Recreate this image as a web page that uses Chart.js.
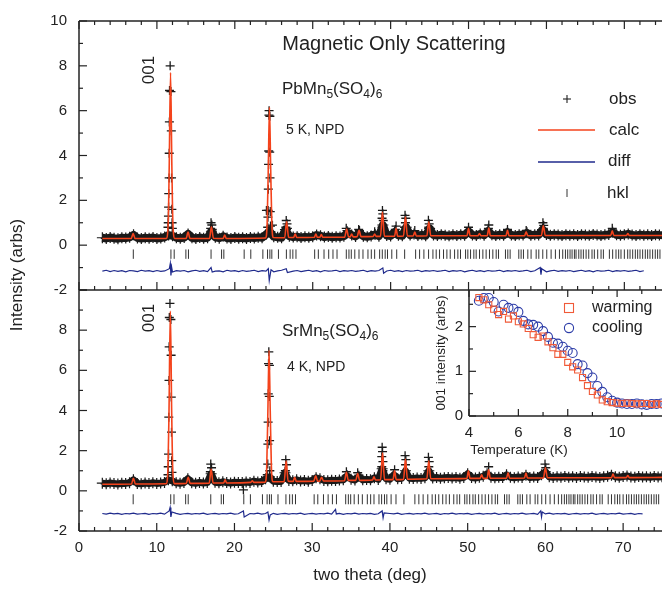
<!DOCTYPE html>
<html>
<head>
<meta charset="utf-8">
<script src="https://cdn.jsdelivr.net/npm/chart.js@4.4.1/dist/chart.umd.min.js"></script>
<style>
  html, body { margin: 0; padding: 0; background: #fff; }
  #wrap { position: relative; width: 662px; height: 590px; overflow: hidden; }
  #wrap canvas { position: absolute; left: 0; top: 0; }
</style>
</head>
<body>
<div id="wrap">
  <canvas id="bottom" width="670" height="590"></canvas>
  <canvas id="top" width="670" height="590"></canvas>
  <canvas id="inset" width="670" height="590"></canvas>
</div>
<script>
// ---- data ----
const xTickLabels = [0, 10, 20, 30, 40, 50, 60, 70];

// obs background band, every 0.5 deg from 3.0
const bandStart = 3.0, bandStep = 0.5;
const pbObsBand = [
  0.33,0.30,0.34,0.31,0.29,0.33,0.32,0.35,0.46,0.32,0.30,0.33,0.31,0.34,0.30,0.32,0.36,0.45,0.42,0.33,
  0.31,0.34,0.50,0.33,0.30,0.34,0.31,0.33,0.62,0.35,0.31,0.40,0.32,0.30,0.34,0.31,0.33,0.30,0.34,0.32,
  0.35,0.33,0.48,0.60,0.38,0.35,0.33,0.70,0.40,0.36,0.38,0.34,0.37,0.35,0.38,0.45,0.42,0.36,0.39,0.35,
  0.38,0.36,0.40,0.55,0.45,0.39,0.55,0.40,0.37,0.41,0.48,0.40,0.90,0.43,0.41,0.58,0.44,0.42,0.80,0.45,
  0.50,0.43,0.46,0.42,0.75,0.45,0.43,0.47,0.44,0.42,0.46,0.43,0.47,0.44,0.62,0.45,0.43,0.50,0.44,0.62,
  0.46,0.43,0.47,0.44,0.58,0.45,0.43,0.47,0.45,0.55,0.44,0.47,0.45,0.70,0.48,0.44,0.47,0.45,0.43,0.47,
  0.44,0.46,0.43,0.47,0.45,0.44,0.48,0.45,0.43,0.46,0.48,0.58,0.46,0.44,0.47,0.50,0.45,0.43,0.47,0.44,
  0.46,0.43,0.47,0.45,0.44
];
const srObsBand = [
  0.38,0.35,0.39,0.36,0.34,0.38,0.37,0.40,0.55,0.37,0.35,0.39,0.36,0.40,0.37,0.39,0.42,0.55,0.50,0.40,
  0.38,0.41,0.60,0.40,0.38,0.42,0.39,0.41,0.85,0.43,0.40,0.45,0.41,0.39,0.43,0.41,0.42,0.44,0.42,0.48,
  0.44,0.46,0.60,0.70,0.48,0.46,0.47,0.90,0.52,0.50,0.55,0.49,0.51,0.48,0.52,0.65,0.60,0.52,0.50,0.53,
  0.51,0.54,0.55,0.75,0.58,0.54,0.72,0.55,0.57,0.55,0.65,0.57,1.10,0.60,0.58,0.80,0.60,0.62,1.00,0.63,
  0.61,0.64,0.62,0.65,1.00,0.64,0.66,0.63,0.65,0.67,0.64,0.66,0.63,0.67,0.85,0.66,0.64,0.68,0.72,0.85,
  0.68,0.65,0.68,0.66,0.80,0.68,0.65,0.69,0.67,0.78,0.66,0.69,0.67,0.80,0.95,0.70,0.67,0.70,0.68,0.71,
  0.68,0.70,0.67,0.71,0.69,0.68,0.71,0.69,0.67,0.70,0.72,0.78,0.70,0.68,0.71,0.74,0.69,0.68,0.71,0.69,
  0.70,0.68,0.71,0.69,0.70
];

// obs crosses on the peaks [2theta, intensity]
const pbObsPeaks = [
  [11.70,8.0],[11.62,6.9],[11.80,6.85],[11.60,5.5],[11.85,5.1],[11.58,4.1],[11.57,3.0],[11.88,3.0],
  [11.52,2.3],[11.50,1.7],[11.92,1.6],[11.48,1.3],[11.45,1.0],[11.95,1.0],[11.42,0.8],[11.98,0.75],
  [24.40,6.0],[24.38,5.8],[24.50,5.75],[24.35,4.2],[24.48,4.15],[24.33,3.6],[24.52,3.0],[24.30,2.5],
  [24.28,1.55],[24.55,1.5],[24.25,1.25],[24.58,0.85],[24.22,0.8],[24.06,1.55],[24.83,0.89],
  [16.95,1.0],[17.05,0.9],[16.9,0.75],[17.1,0.7],
  [26.6,1.1],[26.7,0.95],[26.55,0.8],[26.75,0.75],
  [34.3,0.75],[34.4,0.65],[35.9,0.7],[36.0,0.65],[37.95,0.6],
  [38.95,1.55],[39.0,1.4],[38.9,1.2],[39.05,1.1],[38.9,0.8],[39.1,0.75],
  [40.7,0.85],[40.6,0.7],[41.85,1.33],[41.95,1.2],[41.9,1.0],[41.8,0.8],[43.1,0.65],
  [44.85,1.11],[44.95,0.95],[44.9,0.8],[50.0,0.8],[52.6,0.9],[52.55,0.75],[55.0,0.7],[57.4,0.65],
  [59.55,1.0],[59.65,0.88],[59.6,0.75],[68.45,0.75]
];
const srObsPeaks = [
  [11.70,9.33],[11.62,8.63],[11.82,8.53],[11.60,7.17],[11.85,6.75],[11.58,5.5],[11.87,4.67],
  [11.55,3.67],[11.90,2.92],[11.52,1.83],[11.93,1.5],[11.48,1.2],[11.96,0.92],[11.45,0.8],
  [24.42,6.92],[24.38,6.33],[24.50,6.25],[24.35,4.83],[24.48,4.7],[24.33,3.42],[24.52,2.5],
  [24.30,2.33],[24.28,1.33],[24.55,1.0],[24.22,0.8],
  [16.95,1.33],[17.05,1.15],[16.9,0.95],[26.6,1.55],[26.7,1.3],[26.55,1.0],[21.15,0.05],
  [34.4,0.95],[35.85,0.9],
  [39.0,2.17],[39.05,1.95],[38.95,1.7],[39.1,1.45],[38.95,1.2],[39.1,1.0],[40.6,1.05],
  [41.95,1.75],[42.05,1.55],[42.0,1.3],[44.95,1.67],[45.05,1.45],[45.0,1.2],
  [52.7,1.2],[59.95,1.33],[60.05,1.15]
];

// calculated profile vertices [2theta, intensity]
const pbCalc = [
  [3.0,0.30],[6.7,0.30],[6.95,0.52],[7.2,0.30],
  [11.2,0.30],[11.45,1.0],[11.58,3.5],[11.75,7.7],[11.92,3.5],[12.05,1.0],[12.3,0.30],
  [13.75,0.30],[14.0,0.58],[14.25,0.30],[16.75,0.30],[17.0,0.82],[17.25,0.31],
  [18.5,0.30],[18.7,0.45],[18.9,0.30],
  [23.95,0.32],[24.15,1.0],[24.3,3.5],[24.45,6.15],[24.6,3.5],[24.75,1.0],[24.95,0.34],
  [26.4,0.33],[26.65,1.05],[26.9,0.35],[27.55,0.34],[27.75,0.5],[27.95,0.34],
  [30.2,0.35],[30.4,0.5],[30.6,0.35],[30.9,0.35],[31.1,0.47],[31.3,0.35],
  [34.1,0.36],[34.35,0.72],[34.6,0.37],[34.8,0.37],[35.0,0.5],[35.2,0.37],
  [35.7,0.38],[35.95,0.66],[36.2,0.38],[37.75,0.39],[37.95,0.5],[38.15,0.39],
  [38.7,0.39],[38.95,1.48],[39.2,0.40],[40.5,0.40],[40.7,0.75],[40.9,0.40],
  [41.65,0.41],[41.9,1.26],[42.15,0.41],[42.9,0.41],[43.1,0.58],[43.3,0.41],
  [44.65,0.42],[44.9,1.04],[45.15,0.42],[49.8,0.42],[50.0,0.74],[50.2,0.42],
  [51.2,0.42],[51.4,0.52],[51.6,0.42],[52.4,0.42],[52.6,0.76],[52.8,0.42],
  [54.8,0.42],[55.0,0.66],[55.2,0.42],[57.2,0.42],[57.4,0.6],[57.6,0.42],
  [59.35,0.43],[59.6,0.86],[59.85,0.43],[68.25,0.43],[68.45,0.64],[68.65,0.43],
  [70.25,0.43],[70.45,0.52],[70.65,0.43],[75.5,0.43]
];
const srCalc = [
  [3.0,0.33],[6.75,0.34],[7.0,0.62],[7.25,0.34],
  [11.2,0.35],[11.45,1.2],[11.58,4.0],[11.75,8.95],[11.92,4.0],[12.05,1.2],[12.3,0.36],
  [13.8,0.37],[14.05,0.68],[14.3,0.37],[16.75,0.38],[17.0,1.08],[17.25,0.39],
  [18.6,0.39],[18.8,0.55],[19.0,0.39],[22.1,0.42],[22.3,0.5],[22.5,0.42],
  [23.95,0.43],[24.15,1.2],[24.3,4.0],[24.45,7.0],[24.6,4.0],[24.75,1.2],[24.95,0.45],
  [26.4,0.46],[26.65,1.5],[26.9,0.48],[27.55,0.47],[27.75,0.68],[27.95,0.47],
  [30.2,0.48],[30.45,0.75],[30.7,0.48],[30.95,0.48],[31.2,0.68],[31.45,0.49],
  [34.15,0.50],[34.4,0.92],[34.65,0.52],[35.6,0.52],[35.85,0.86],[36.1,0.52],
  [37.75,0.54],[37.95,0.70],[38.15,0.54],[38.8,0.55],[39.05,1.9],[39.3,0.56],
  [40.4,0.56],[40.6,1.0],[40.8,0.56],[41.75,0.57],[42.0,1.58],[42.25,0.58],
  [44.75,0.60],[45.0,1.5],[45.25,0.60],[49.9,0.62],[50.1,1.0],[50.3,0.62],
  [51.6,0.62],[51.8,0.80],[52.0,0.62],[52.5,0.62],[52.7,1.05],[52.9,0.63],
  [55.0,0.63],[55.2,0.90],[55.4,0.63],[57.3,0.64],[57.5,0.88],[57.7,0.64],
  [59.75,0.64],[60.0,1.15],[60.25,0.65],[68.5,0.66],[68.7,0.83],[68.9,0.66],
  [70.4,0.66],[70.6,0.76],[70.8,0.66],[75.5,0.67]
];

// difference curve: base every 0.5 deg plus the features at the peaks
const pbDiffBase = [
  -1.16,-1.12,-1.18,-1.13,-1.17,-1.14,-1.19,-1.13,-1.15,-1.18,-1.12,-1.16,-1.14,-1.18,-1.13,
  -1.17,-1.15,-1.12,-1.18,-1.14,-1.16,-1.13,-1.19,-1.15,-1.12,-1.17,-1.14,-1.18,-1.13,-1.16,
  -1.15,-1.19,-1.12,-1.16,-1.14,-1.18,-1.13,-1.17,-1.15,-1.12,-1.18,-1.14,-1.16,-1.13,-1.19,
  -1.15,-1.12,-1.17,-1.14,-1.16,-1.13,-1.18,-1.15,-1.12,-1.17,-1.14,-1.19,-1.13,-1.16,-1.15,
  -1.12,-1.18,-1.14,-1.16,-1.13,-1.17,-1.15,-1.12,-1.18,-1.14,-1.16,-1.13,-1.19,-1.15,-1.12,
  -1.17,-1.14,-1.18,-1.13,-1.16,-1.15,-1.12,-1.18,-1.14,-1.16,-1.13,-1.17,-1.15,-1.12,-1.18,
  -1.14,-1.16,-1.13,-1.19,-1.15,-1.12,-1.17,-1.14,-1.18,-1.13,-1.16,-1.15,-1.12,-1.18,-1.14,
  -1.16,-1.13,-1.17,-1.15,-1.12,-1.18,-1.14,-1.16,-1.13,-1.19,-1.15,-1.12,-1.17,-1.14,-1.16,
  -1.13,-1.18,-1.15,-1.12,-1.17,-1.14,-1.19,-1.13,-1.16,-1.15,-1.12,-1.18,-1.14,-1.16,-1.13,
  -1.17,-1.15,-1.12,-1.18,-1.14
];
const pbDiffPeaks = [
  [11.6,-1.05],[11.72,-0.82],[11.8,-1.35],[11.9,-1.0],[12.0,-1.2],
  [16.95,-1.0],[17.1,-1.2],[24.3,-1.05],[24.42,-1.58],[24.55,-1.3],[24.65,-1.1],
  [26.6,-1.05],[26.75,-1.22],[39.0,-1.02],[39.1,-1.25],[59.2,-1.0],[59.3,-1.32],[59.4,-1.05]
];
const srDiffBase = [
  -1.13,-1.16,-1.11,-1.15,-1.12,-1.17,-1.13,-1.15,-1.11,-1.16,-1.14,-1.12,-1.17,-1.13,-1.15,
  -1.11,-1.16,-1.13,-1.15,-1.12,-1.17,-1.14,-1.12,-1.16,-1.13,-1.15,-1.11,-1.17,-1.14,-1.12,
  -1.16,-1.13,-1.15,-1.11,-1.16,-1.14,-1.12,-1.17,-1.13,-1.15,-1.11,-1.16,-1.13,-1.15,-1.12,
  -1.17,-1.14,-1.12,-1.16,-1.13,-1.15,-1.11,-1.17,-1.14,-1.12,-1.16,-1.13,-1.15,-1.11,-1.16,
  -1.14,-1.12,-1.17,-1.13,-1.15,-1.11,-1.16,-1.13,-1.15,-1.12,-1.17,-1.14,-1.12,-1.16,-1.13,
  -1.15,-1.11,-1.17,-1.14,-1.12,-1.16,-1.13,-1.15,-1.11,-1.16,-1.14,-1.12,-1.17,-1.13,-1.15,
  -1.11,-1.16,-1.13,-1.15,-1.12,-1.17,-1.14,-1.12,-1.16,-1.13,-1.15,-1.11,-1.17,-1.14,-1.12,
  -1.16,-1.13,-1.15,-1.11,-1.16,-1.14,-1.12,-1.17,-1.13,-1.15,-1.11,-1.16,-1.13,-1.15,-1.12,
  -1.17,-1.14,-1.12,-1.16,-1.13,-1.15,-1.11,-1.17,-1.14,-1.12,-1.16,-1.13,-1.15,-1.11,-1.16,
  -1.14,-1.12,-1.17,-1.13,-1.15
];
const srDiffPeaks = [
  [11.6,-1.0],[11.72,-0.83],[11.82,-1.3],[11.95,-1.05],[21.15,-1.0],[21.25,-1.3],
  [24.3,-1.05],[24.45,-1.45],[24.6,-1.2],[33.0,-0.92],[33.1,-1.15],
  [39.0,-1.0],[39.12,-1.35],[39.25,-1.1],[59.4,-1.0],[59.5,-1.3],[59.6,-1.05]
];

// reflection positions (hkl), same for both compounds
const hklPos = [
  6.97,11.8,12.22,13.72,14.05,16.95,18.3,18.59,21.2,22.05,23.6,24.2,24.5,24.75,25.6,26.62,27.1,
  27.45,27.85,30.25,30.72,31.45,32.05,32.6,33.12,34.31,34.65,34.95,35.4,35.94,36.45,37.09,37.52,
  37.95,38.59,38.93,39.3,39.6,40.15,40.78,41.8,43.21,43.72,44.27,44.87,45.43,45.85,46.28,46.79,
  47.22,47.65,48.21,48.63,48.97,49.62,49.91,50.26,50.68,50.98,51.41,51.84,52.26,52.69,53.12,53.55,
  53.85,54.74,55.04,55.34,56.45,56.75,57.05,57.61,58.03,58.68,59.02,59.53,60.04,60.6,61.15,61.67,
  62.09,62.44,62.73,63.03,63.29,63.59,63.8,64.15,64.44,64.74,65.09,65.43,65.85,66.15,66.58,67.01,
  67.31,68.08,68.5,68.93,69.27,69.57,70.0,70.43,70.73,71.07,71.41,71.71,72.01,72.35,72.69,72.99,
  73.29,73.63,73.97,74.27,74.57
];

// inset: 001 intensity vs temperature
const tempK = [4.4,4.6,4.8,5.0,5.2,5.4,5.6,5.8,6.0,6.2,6.4,6.6,6.8,7.0,7.2,7.4,7.6,7.8,8.0,8.2,
  8.4,8.6,8.8,9.0,9.2,9.4,9.6,9.8,10.0,10.2,10.4,10.6,10.8,11.0,11.2,11.4,11.6,11.8];
const warming = [2.65,2.60,2.49,2.39,2.27,2.34,2.17,2.24,2.11,2.06,1.96,1.82,1.76,1.79,1.66,1.53,
  1.38,1.38,1.20,1.10,1.03,0.86,0.68,0.55,0.47,0.36,0.32,0.30,0.29,0.28,0.29,0.28,0.27,0.28,0.28,
  0.26,0.27,0.26];
const cooling = [2.58,2.64,2.64,2.55,2.34,2.49,2.42,2.40,2.33,2.13,2.05,2.04,2.00,1.90,1.77,1.64,
  1.62,1.55,1.46,1.41,1.16,1.13,0.96,0.86,0.67,0.54,0.42,0.34,0.30,0.28,0.27,0.27,0.28,0.26,0.25,
  0.27,0.27,0.28];

// ---- drawing ----
const FONT = "'Liberation Sans', Arial, Helvetica, sans-serif";
const INK = "#222";
const RED = "#f4431c";
const BLUE = "#1f2a8c";
Chart.defaults.font.family = FONT;
Chart.defaults.color = INK;

const pairs = arr => arr.map(p => ({ x: p[0], y: p[1] }));
const band = arr => arr.map((v, i) => ({ x: bandStart + i * bandStep, y: v }));
const diffCurve = (base, peaks) => band(base)
  .filter(p => !peaks.some(q => Math.abs(q[0] - p.x) < 0.3))
  .concat(pairs(peaks))
  .sort((a, b) => a.x - b.x);

function txt(ctx, s, x, y, size, align) {
  ctx.font = size + "px " + FONT;
  ctx.textAlign = align || "left";
  ctx.textBaseline = "middle";
  ctx.fillStyle = INK;
  ctx.fillText(s, x, y);
}
function vtxt(ctx, s, x, y, size) {
  ctx.save();
  ctx.translate(x, y);
  ctx.rotate(-Math.PI / 2);
  txt(ctx, s, 0, 0, size, "center");
  ctx.restore();
}
function formula(ctx, parts, x, y) {
  ctx.textAlign = "left";
  ctx.textBaseline = "middle";
  ctx.fillStyle = INK;
  parts.forEach(p => {
    ctx.font = (p[1] ? 12 : 17) + "px " + FONT;
    ctx.fillText(p[0], x, p[1] ? y + 6 : y);
    x += ctx.measureText(p[0]).width;
  });
}
function line(ctx, x1, y1, x2, y2) {
  ctx.beginPath(); ctx.moveTo(x1, y1); ctx.lineTo(x2, y2); ctx.stroke();
}

// frame with inward ticks
function frame(chart, sides) {
  const ctx = chart.ctx, a = chart.chartArea, sx = chart.scales.x, sy = chart.scales.y;
  ctx.save();
  ctx.strokeStyle = INK;
  ctx.lineWidth = 1.5;
  line(ctx, a.left, a.top, a.left, a.bottom);
  if (sides.top) line(ctx, a.left, a.top, a.right + 2, a.top);
  if (sides.bottom) line(ctx, a.left, a.bottom, a.right + 2, a.bottom);
  ctx.lineWidth = 1.2;
  for (let v = sides.x[0]; v <= sides.x[1] + 1e-6; v += sides.x[2]) {
    const px = sx.getPixelForValue(v);
    const len = Math.abs(v / sides.x[3] - Math.round(v / sides.x[3])) < 1e-6 ? 8 : 4;
    if (sides.top) line(ctx, px, a.top, px, a.top + len);
    if (sides.bottom) line(ctx, px, a.bottom, px, a.bottom - len);
  }
  for (let v = sides.y[0]; v <= sides.y[1] + 1e-6; v += sides.y[2]) {
    const py = sy.getPixelForValue(v);
    const len = Math.abs(v / sides.y[3] - Math.round(v / sides.y[3])) < 1e-6 ? 8 : 4;
    line(ctx, a.left, py, a.left + len, py);
  }
  ctx.restore();
}

function panelDatasets(obsBand, obsPeaks, calc, diff, hklY, bandW, hklR) {
  return [
    { data: pairs(calc), showLine: true, borderColor: RED, borderWidth: 1.6,
      pointRadius: 0, cubicInterpolationMode: "monotone", order: 0 },
    { data: pairs(obsPeaks), borderColor: "#1a1a1a", pointStyle: "cross", pointRadius: 4.5,
      pointBorderWidth: 1.3, order: 1 },
    { data: band(obsBand), showLine: true, borderColor: "#1a1a1a", borderWidth: bandW,
      borderJoinStyle: "round", pointStyle: "cross", pointRadius: 5.5, pointBorderWidth: 1.2,
      pointBorderColor: "#1a1a1a", order: 2 },
    { data: diff, showLine: true, borderColor: BLUE, borderWidth: 1.2, pointRadius: 0, order: 1 },
    { data: hklPos.map(v => ({ x: v, y: hklY })), borderColor: "#333", pointStyle: "line",
      rotation: 90, pointRadius: hklR, pointBorderWidth: 1, order: 1 }
  ];
}

function panelOptions(padding, showX, hideTop) {
  return {
    responsive: false, animation: false, devicePixelRatio: 1,
    layout: { padding: padding },
    plugins: { legend: { display: false }, tooltip: { enabled: false } },
    scales: {
      x: {
        type: "linear", min: 0, max: 75, display: showX,
        grid: { display: false, drawTicks: false }, border: { display: false },
        ticks: { stepSize: 10, font: { size: 15 }, padding: 8, color: INK,
          callback: v => xTickLabels.includes(v) ? v : "" },
        afterFit: s => { s.height = showX ? 59 : 0; }
      },
      y: {
        min: -2, max: 10,
        grid: { display: false, drawTicks: false }, border: { display: false },
        ticks: { stepSize: 2, font: { size: 15 }, padding: 12, color: INK,
          callback: v => (hideTop && v === 10) ? "" : v },
        afterFit: s => { s.width = 79; }
      }
    }
  };
}

// top panel: PbMn5(SO4)6
new Chart(document.getElementById("top"), {
  type: "scatter",
  data: { datasets: panelDatasets(pbObsBand, pbObsPeaks, pbCalc, diffCurve(pbDiffBase, pbDiffPeaks), -0.4, 8, 4.7) },
  options: panelOptions({ top: 19, bottom: 300, left: 0, right: 6 }, false, false),
  plugins: [{
    id: "topDecor",
    afterDraw(chart) {
      frame(chart, { top: true, bottom: true, x: [0, 76, 2, 10], y: [-2, 10, 1, 2] });
      const ctx = chart.ctx;
      ctx.save();
      txt(ctx, "Magnetic Only Scattering", 394, 44, 20, "center");
      formula(ctx, [["PbMn", 0], ["5", 1], ["(SO", 0], ["4", 1], [")", 0], ["6", 1]], 282, 89);
      txt(ctx, "5 K, NPD", 286, 130, 14);
      vtxt(ctx, "001", 149, 70, 17);
      // legend
      ctx.strokeStyle = "#222"; ctx.lineWidth = 1.1;
      line(ctx, 563, 99, 571, 99); line(ctx, 567, 95, 567, 103);
      txt(ctx, "obs", 609, 99, 17);
      ctx.strokeStyle = RED; ctx.lineWidth = 1.6; line(ctx, 538, 130, 595, 130);
      txt(ctx, "calc", 609, 130, 17);
      ctx.strokeStyle = BLUE; ctx.lineWidth = 1.3; line(ctx, 538, 162, 595, 162);
      txt(ctx, "diff", 608, 161, 17);
      ctx.strokeStyle = "#333"; ctx.lineWidth = 1; line(ctx, 567, 189, 567, 197);
      txt(ctx, "hkl", 607, 193, 17);
      // shared axis titles
      vtxt(ctx, "Intensity (arbs)", 17, 275, 17);
      txt(ctx, "two theta (deg)", 370, 575, 17, "center");
      ctx.restore();
    }
  }]
});

// bottom panel: SrMn5(SO4)6
new Chart(document.getElementById("bottom"), {
  type: "scatter",
  data: { datasets: panelDatasets(srObsBand, srObsPeaks, srCalc, diffCurve(srDiffBase, srDiffPeaks), -0.42, 7, 5) },
  options: panelOptions({ top: 290, bottom: 0, left: 0, right: 6 }, true, true),
  plugins: [{
    id: "bottomDecor",
    afterDraw(chart) {
      frame(chart, { top: false, bottom: true, x: [0, 76, 2, 10], y: [-2, 10, 1, 2] });
      const ctx = chart.ctx;
      ctx.save();
      formula(ctx, [["SrMn", 0], ["5", 1], ["(SO", 0], ["4", 1], [")", 0], ["6", 1]], 282, 331);
      txt(ctx, "4 K, NPD", 287, 367, 14);
      vtxt(ctx, "001", 149, 318, 17);
      ctx.restore();
    }
  }]
});

// inset: 001 intensity vs temperature
new Chart(document.getElementById("inset"), {
  type: "scatter",
  data: {
    datasets: [
      { label: "warming", data: tempK.map((t, i) => ({ x: t, y: warming[i] })),
        pointStyle: "rect", pointRadius: 4.3, pointBorderWidth: 1.1,
        borderColor: "#f05a38", backgroundColor: "rgba(0,0,0,0)" },
      { label: "cooling", data: tempK.map((t, i) => ({ x: t, y: cooling[i] })),
        pointStyle: "circle", pointRadius: 4.5, pointBorderWidth: 1.1,
        borderColor: "#2c3ca8", backgroundColor: "rgba(0,0,0,0)" }
    ]
  },
  options: {
    responsive: false, animation: false, devicePixelRatio: 1,
    layout: { padding: { top: 290, bottom: 134, left: 400, right: 6 } },
    plugins: { legend: { display: false }, tooltip: { enabled: false } },
    scales: {
      x: {
        type: "linear", min: 4, max: 11.9,
        grid: { display: false, drawTicks: false }, border: { display: false },
        ticks: { stepSize: 2, includeBounds: false, font: { size: 15 }, padding: 8, color: INK },
        afterFit: s => { s.height = 40; }
      },
      y: {
        min: 0, max: 2.82,
        grid: { display: false, drawTicks: false }, border: { display: false },
        ticks: { stepSize: 1, includeBounds: false, font: { size: 15 }, padding: 6, color: INK },
        afterFit: s => { s.width = 69; }
      }
    }
  },
  plugins: [{
    id: "insetDecor",
    afterDraw(chart) {
      const ctx = chart.ctx, a = chart.chartArea, sx = chart.scales.x, sy = chart.scales.y;
      ctx.save();
      ctx.strokeStyle = INK; ctx.lineWidth = 1.5;
      line(ctx, a.left, a.top, a.left, a.bottom);
      line(ctx, a.left, a.bottom, a.right + 2, a.bottom);
      ctx.lineWidth = 1.2;
      for (let t = 4; t <= 12; t += 1) {
        const px = sx.getPixelForValue(t), len = t % 2 === 0 ? 7 : 4;
        line(ctx, px, a.bottom, px, a.bottom - len);
        line(ctx, px, a.top, px, a.top + len);
      }
      for (let v = 0; v <= 2.5 + 1e-6; v += 0.5) {
        const py = sy.getPixelForValue(v), len = Math.abs(v - Math.round(v)) < 1e-6 ? 7 : 4;
        line(ctx, a.left, py, a.left + len, py);
      }
      txt(ctx, "Temperature (K)", 519, 450, 13.5, "center");
      vtxt(ctx, "001 intensity (arbs)", 441, 353, 13.5);
      ctx.lineWidth = 1.1;
      ctx.strokeStyle = "#f05a38"; ctx.strokeRect(564.5, 303.5, 9, 9);
      txt(ctx, "warming", 592, 308, 16);
      ctx.strokeStyle = "#2c3ca8"; ctx.beginPath(); ctx.arc(569, 328, 4.6, 0, Math.PI * 2); ctx.stroke();
      txt(ctx, "cooling", 592, 328, 16);
      ctx.restore();
    }
  }]
});
</script>
</body>
</html>
